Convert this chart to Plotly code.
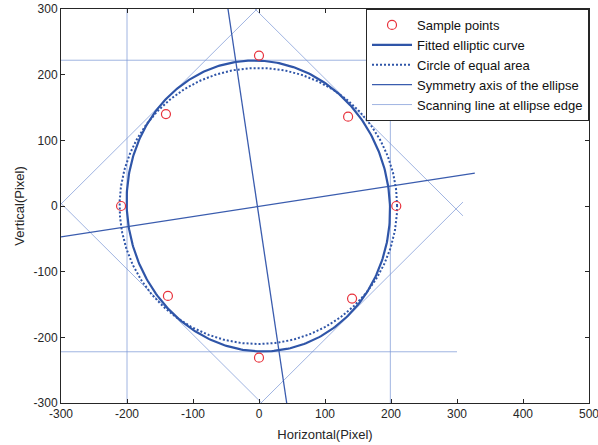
import numpy as np
import plotly.graph_objects as go

# Sample points (pixel coordinates)
sample_x = [0, 135, 208, 141, 0, -138, -209, -141]
sample_y = [229, 136, 0, -141, -231, -137, 0, 140]

# Fitted ellipse parameters
ell_cx, ell_cy = -1, 0
ell_a, ell_b = 199, 222          # semi-axes (near-horizontal, near-vertical)
ell_theta_deg = 8.7              # rotation of the a-axis
circle_r = 210.2                 # radius of equal-area circle

# Symmetry axes of the ellipse (endpoints)
axis1_x = [-47, 42]
axis1_y = [300, -300]
axis2_x = [-300, 327]
axis2_y = [-47, 50]

# Scanning lines at ellipse edge (endpoints)
scan_h_top_x = [-300, 300]; scan_h_top_y = [222, 222]
scan_h_bot_x = [-300, 300]; scan_h_bot_y = [-222, -222]
scan_v_left_x = [-200, -200]; scan_v_left_y = [-300, 300]
scan_v_right_x = [199, 199]; scan_v_right_y = [-300, 300]
scan_ul_x = [-300, -3]; scan_ul_y = [3, 300]
scan_ur_x = [-6, 309]; scan_ur_y = [300, -15]
scan_lr_x = [3, 309]; scan_lr_y = [-300, 6]
scan_ll_x = [-300, 4]; scan_ll_y = [4, -300]

x_ticks = [-300, -200, -100, 0, 100, 200, 300, 400, 500]
y_ticks = [-300, -200, -100, 0, 100, 200, 300]

t = np.linspace(0, 2 * np.pi, 400)
th = np.deg2rad(ell_theta_deg)
ex = ell_cx + ell_a * np.cos(t) * np.cos(th) - ell_b * np.sin(t) * np.sin(th)
ey = ell_cy + ell_a * np.cos(t) * np.sin(th) + ell_b * np.sin(t) * np.cos(th)
cx = ell_cx + circle_r * np.cos(t)
cy = ell_cy + circle_r * np.sin(t)

def join(segs):
    xs, ys = [], []
    for sx, sy in segs:
        xs += list(sx) + [None]
        ys += list(sy) + [None]
    return xs, ys

ax_x, ax_y = join([(axis1_x, axis1_y), (axis2_x, axis2_y)])
sc_x, sc_y = join([
    (scan_h_top_x, scan_h_top_y), (scan_h_bot_x, scan_h_bot_y),
    (scan_v_left_x, scan_v_left_y), (scan_v_right_x, scan_v_right_y),
    (scan_ul_x, scan_ul_y), (scan_ur_x, scan_ur_y),
    (scan_lr_x, scan_lr_y), (scan_ll_x, scan_ll_y),
])

blue = "#2f55a8"
fig = go.Figure()
fig.add_trace(go.Scatter(x=sc_x, y=sc_y, mode="lines", name="Scanning line at ellipse edge",
                         line=dict(color="rgba(120,148,212,0.7)", width=1), legendrank=5))
fig.add_trace(go.Scatter(x=ax_x, y=ax_y, mode="lines", name="Symmetry axis of the ellipse",
                         line=dict(color="#3a5cae", width=1.3), legendrank=4))
fig.add_trace(go.Scatter(x=cx, y=cy, mode="lines", name="Circle of equal area",
                         line=dict(color=blue, width=2, dash="2px,2px"), legendrank=3))
fig.add_trace(go.Scatter(x=ex, y=ey, mode="lines", name="Fitted elliptic curve",
                         line=dict(color=blue, width=2.2), legendrank=2))
fig.add_trace(go.Scatter(x=sample_x, y=sample_y, mode="markers", name="Sample points",
                         marker=dict(symbol="circle-open", size=9, color="#e8323c",
                                     line=dict(width=1.2, color="#e8323c")), legendrank=1))

axis_common = dict(showline=True, linecolor="#262626", linewidth=1, mirror="allticks",
                   ticks="inside", ticklen=4, tickcolor="#262626", showgrid=False,
                   zeroline=False, automargin=False, ticklabeloverflow="allow",
                   tickfont=dict(family="Liberation Sans, Arial", size=12, color="#262626"))
fig.update_xaxes(range=[-300, 500], tickvals=x_ticks, ticktext=[str(v) for v in x_ticks],
                 title=dict(text="Horizontal(Pixel)", font=dict(family="Liberation Sans, Arial", size=13, color="#262626"), standoff=9),
                 **axis_common)
fig.update_yaxes(range=[-300, 300], tickvals=y_ticks, ticktext=[str(v) for v in y_ticks],
                 title=dict(text="Vertical(Pixel)", font=dict(family="Liberation Sans, Arial", size=13, color="#262626"), standoff=6),
                 **axis_common)

fig.update_layout(
    width=598, height=445,
    margin=dict(l=61, r=9, t=9, b=42, autoexpand=False),
    paper_bgcolor="white", plot_bgcolor="white",
    font=dict(family="Liberation Sans, Arial", color="#262626"),
    legend=dict(x=1, y=1, xanchor="right", yanchor="top", bgcolor="white",
                bordercolor="#262626", borderwidth=1,
                font=dict(family="Liberation Sans, Arial", size=13, color="#111111"),
                tracegroupgap=0, itemwidth=40),
)

fig.write_html("out.html", config={"displayModeBar": False},
               post_script="document.body.style.margin='0';")
